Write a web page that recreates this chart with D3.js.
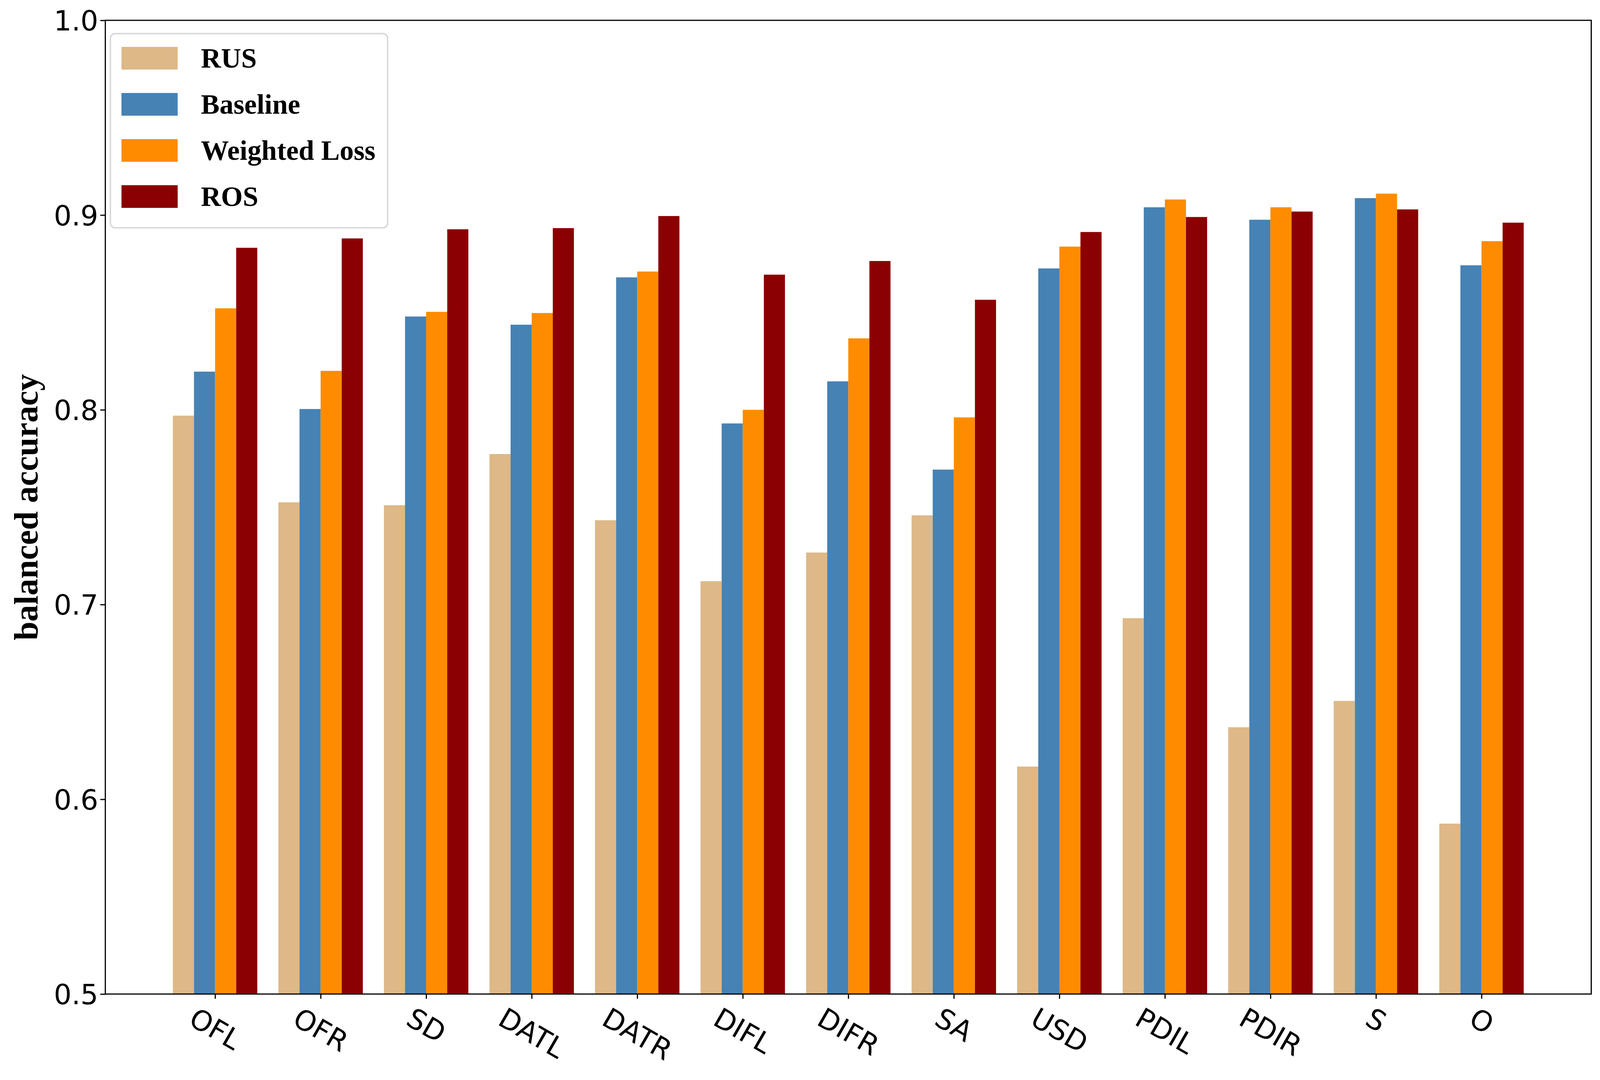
<!DOCTYPE html>
<html>
<head>
    <meta charset="utf-8">
    <script src="https://d3js.org/d3.v7.min.js"></script>
    <style>
        html, body { margin: 0; padding: 0; background: #ffffff; overflow: hidden; }
        svg { display: block; }
        .tick text { font-family: 'DejaVu Sans', sans-serif; }
    </style>
</head>
<body>
    <svg id="chart"></svg>
    <script>
        // values
        var categories = ["OFL", "OFR", "SD", "DATL", "DATR", "DIFL", "DIFR", "SA", "USD", "PDIL", "PDIR", "S", "O"];
        var seriesNames = ["RUS", "Baseline", "Weighted Loss", "ROS"];
        var rus = [0.797, 0.7525, 0.751, 0.7773, 0.7433, 0.712, 0.7267, 0.7458, 0.6168, 0.693, 0.637, 0.6505, 0.5875];
        var baseline = [0.8196, 0.8004, 0.8479, 0.8437, 0.868, 0.793, 0.8146, 0.7693, 0.8726, 0.904, 0.8976, 0.9087, 0.8742];
        var weightedLoss = [0.8521, 0.820, 0.8503, 0.8497, 0.871, 0.800, 0.8367, 0.7961, 0.8838, 0.908, 0.904, 0.911, 0.8866];
        var ros = [0.8832, 0.888, 0.8927, 0.8933, 0.8995, 0.8694, 0.8764, 0.8565, 0.8913, 0.899, 0.9018, 0.9029, 0.8961];
        var yTicks = [0.5, 0.6, 0.7, 0.8, 0.9, 1.0];
        var colors = ["#DEB887", "#4682B4", "#FF8C00", "#8B0000"];

        var allSeries = [rus, baseline, weightedLoss, ros];

        // lay out against the real viewport, in units of the 4755 x 2764 reference
        var W = window.innerWidth || 4755;
        var H = window.innerHeight || 2764;
        var sx = W / 4755, sy = H / 2764;
        var f = Math.min(sx, sy);
        function px(v) { return v * sx; }
        function py(v) { return v * sy; }

        var svg = d3.select("#chart")
            .attr("width", W)
            .attr("height", H);

        var plotLeft = px(313), plotRight = px(4729), plotTop = py(52), plotBottom = py(2544);
        var barW = 0.2;

        var x = d3.scaleLinear()
            .domain([-1.04, categories.length - 1 + 1.04])
            .range([plotLeft, plotRight]);
        var y = d3.scaleLinear()
            .domain([0.5, 1.0])
            .range([plotBottom, plotTop]);

        // bars
        allSeries.forEach(function (vals, k) {
            svg.append("g")
                .selectAll("rect")
                .data(vals)
                .enter()
                .append("rect")
                .attr("x", function (d, i) { return x(i + (k - 2) * barW); })
                .attr("width", x(barW) - x(0))
                .attr("y", function (d) { return y(d); })
                .attr("height", function (d) { return y(0.5) - y(d); })
                .style("fill", colors[k]);
        });

        // y axis
        var yAxis = d3.axisLeft(y)
            .tickValues(yTicks)
            .tickSize(15 * f)
            .tickPadding(6 * f)
            .tickFormat(d3.format(".1f"));
        var gy = svg.append("g")
            .attr("transform", "translate(" + plotLeft + ",0)")
            .call(yAxis);
        gy.select(".domain").remove();
        gy.selectAll("line").style("stroke", "#000").style("stroke-width", (3.5 * f) + "px");
        gy.selectAll("text")
            .style("font-size", (83 * f) + "px")
            .style("fill", "#000")
            .attr("dy", "0.36em");

        // x axis
        var xAxis = d3.axisBottom(x)
            .tickValues(d3.range(categories.length))
            .tickSize(14 * f)
            .tickFormat(function (d) { return categories[d]; });
        var gx = svg.append("g")
            .attr("transform", "translate(0," + plotBottom + ")")
            .call(xAxis);
        gx.select(".domain").remove();
        gx.selectAll("line").style("stroke", "#000").style("stroke-width", (3.5 * f) + "px");

        // rotated labels: bbox centred on tick, top of bbox just below the tick
        var angle = 30, rad = angle * Math.PI / 180;
        gx.selectAll("text")
            .style("font-size", (83 * f) + "px")
            .style("fill", "#000")
            .attr("y", 0)
            .attr("dy", "0.35em")
            .attr("text-anchor", "middle")
            .each(function () {
                var b = this.getBBox();
                var h = 83 * f * 0.8;
                var Hb = b.width * Math.sin(rad) + h * Math.cos(rad);
                d3.select(this).attr("transform", "translate(0," + (py(30) + Hb / 2) + ") rotate(" + angle + ")");
            });

        // frame
        svg.append("rect")
            .attr("x", plotLeft)
            .attr("y", plotTop)
            .attr("width", plotRight - plotLeft)
            .attr("height", plotBottom - plotTop)
            .style("fill", "none")
            .style("stroke", "#000")
            .style("stroke-width", (3.5 * f) + "px");

        // y label
        svg.append("text")
            .attr("transform", "translate(" + px(112) + "," + ((plotTop + plotBottom) / 2) + ") rotate(-90)")
            .attr("text-anchor", "middle")
            .style("font-family", "'Liberation Serif', 'Times New Roman', serif")
            .style("font-weight", "bold")
            .style("font-size", (100 * f) + "px")
            .style("fill", "#000")
            .text("balanced accuracy");

        // legend
        var legend = svg.append("g");
        legend.append("rect")
            .attr("x", px(328))
            .attr("y", py(86))
            .attr("width", px(824))
            .attr("height", py(497))
            .attr("rx", 14 * f)
            .style("fill", "#fff")
            .style("stroke", "#d6d6d6")
            .style("stroke-width", (4 * f) + "px");
        seriesNames.forEach(function (name, k) {
            var ry = 120 + k * 118;
            legend.append("rect")
                .attr("x", px(361))
                .attr("y", py(ry))
                .attr("width", px(167))
                .attr("height", py(58))
                .style("fill", colors[k]);
            legend.append("text")
                .attr("x", px(597))
                .attr("y", py(ry + 29) + 28 * f)
                .style("font-family", "'Liberation Serif', 'Times New Roman', serif")
                .style("font-weight", "bold")
                .style("font-size", (83 * f) + "px")
                .style("fill", "#000")
                .text(name);
        });
    </script>
</body>
</html>
